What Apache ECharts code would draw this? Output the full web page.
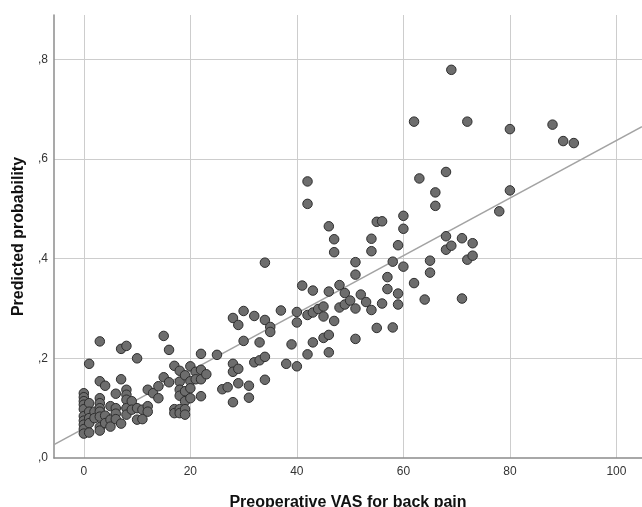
<!DOCTYPE html>
<html>
<head>
<meta charset="utf-8">
<script src="https://cdn.jsdelivr.net/npm/echarts@6/dist/echarts.min.js"></script>
<style>
  html, body { margin: 0; padding: 0; background: #fff; }
  #chart { width: 642px; height: 507px; }
</style>
</head>
<body>
<div id="chart"></div>
<script>
// points: [VAS, predicted probability]
const vas0to16 = [
  [0,0.130],[0,0.122],[0,0.114],[0,0.107],[0,0.098],[0,0.084],[0,0.075],[0,0.067],[0,0.058],[0,0.049],
  [1,0.189],[1,0.110],[1,0.093],[1,0.080],[1,0.070],[1,0.051],
  [2,0.093],[2,0.080],
  [3,0.234],[3,0.154],[3,0.120],[3,0.110],[3,0.100],[3,0.093],[3,0.083],[3,0.062],[3,0.055],
  [4,0.145],[4,0.085],[4,0.070],
  [5,0.104],[5,0.077],[5,0.063],
  [6,0.129],[6,0.100],[6,0.089],[6,0.078],
  [7,0.219],[7,0.158],[7,0.069],
  [8,0.225],[8,0.137],[8,0.127],[8,0.117],[8,0.100],[8,0.087],
  [9,0.114],[9,0.097],
  [10,0.200],[10,0.100],[10,0.077],
  [11,0.097],[11,0.078],
  [12,0.137],[12,0.104],[12,0.093],
  [13,0.130],
  [14,0.144],[14,0.120],
  [15,0.245],[15,0.162],
  [16,0.217],[16,0.152]
];

const vas17to40 = [
  [17,0.185],[17,0.098],[17,0.090],
  [18,0.175],[18,0.153],[18,0.137],[18,0.125],[18,0.098],[18,0.090],
  [19,0.166],[19,0.134],[19,0.114],[19,0.098],[19,0.087],
  [20,0.184],[20,0.154],[20,0.140],[20,0.120],
  [21,0.173],[21,0.158],
  [22,0.209],[22,0.177],[22,0.158],[22,0.124],
  [23,0.168],
  [25,0.207],
  [26,0.138],
  [27,0.142],
  [28,0.281],[28,0.189],[28,0.173],[28,0.112],
  [29,0.267],[29,0.179],[29,0.150],
  [30,0.295],[30,0.235],
  [31,0.145],[31,0.121],
  [32,0.285],[32,0.192],
  [33,0.232],[33,0.196],
  [34,0.392],[34,0.277],[34,0.203],[34,0.157],
  [35,0.263],[35,0.253],
  [37,0.296],
  [38,0.189],
  [39,0.228],
  [40,0.293],[40,0.272],[40,0.184]
];

const vas41to92 = [
  [41,0.346],
  [42,0.555],[42,0.510],[42,0.287],[42,0.208],
  [43,0.336],[43,0.292],[43,0.232],
  [44,0.299],
  [45,0.304],[45,0.284],[45,0.241],
  [46,0.465],[46,0.334],[46,0.247],[46,0.212],
  [47,0.439],[47,0.413],[47,0.275],
  [48,0.347],[48,0.302],
  [49,0.331],[49,0.308],
  [50,0.316],
  [51,0.393],[51,0.368],[51,0.300],[51,0.239],
  [52,0.328],
  [53,0.313],
  [54,0.440],[54,0.415],[54,0.297],
  [55,0.474],[55,0.261],
  [56,0.475],[56,0.310],
  [57,0.363],[57,0.339],
  [58,0.394],[58,0.262],
  [59,0.427],[59,0.330],[59,0.308],
  [60,0.486],[60,0.460],[60,0.384],
  [62,0.675],[62,0.351],
  [63,0.561],
  [64,0.318],
  [65,0.396],[65,0.372],
  [66,0.533],[66,0.506],
  [68,0.574],[68,0.445],[68,0.418],
  [69,0.779],[69,0.426],
  [71,0.441],[71,0.320],
  [72,0.675],[72,0.398],
  [73,0.431],[73,0.406],
  [78,0.495],
  [80,0.660],[80,0.537],
  [88,0.669],
  [90,0.636],
  [92,0.632]
];

// fit line, read at the two edges of the plot
const fitX = [-5.6, 104.8];
const fitY = [0.027, 0.665];

const xTicks = [0, 20, 40, 60, 80, 100];
const yTicks = [0, 0.2, 0.4, 0.6, 0.8];

const font = 'Liberation Sans, Arial, sans-serif';

const chart = echarts.init(document.getElementById('chart'));

const option = {
  backgroundColor: '#fff',
  animation: false,
  grid: { left: 54, right: 0, top: 15, bottom: 49, outerBoundsMode: 'none' },
  xAxis: {
    type: 'value',
    min: -5.6,
    max: 104.8,
    name: 'Preoperative VAS for back pain',
    nameLocation: 'middle',
    nameGap: 37,
    nameTextStyle: { fontSize: 16, fontWeight: 'bold', color: '#111', fontFamily: font },
    axisLine: { show: true, lineStyle: { color: '#8c8c8c', width: 1.5 } },
    axisTick: { show: false },
    axisLabel: {
      color: '#333', fontSize: 12, fontFamily: font, margin: 8,
      formatter: v => (xTicks.indexOf(v) >= 0 ? String(v) : '')
    },
    splitLine: {
      show: true, showMinLine: false, showMaxLine: false,
      lineStyle: { color: '#cdcdcd', width: 1 }
    }
  },
  yAxis: {
    type: 'value',
    min: 0,
    max: 0.889,
    name: 'Predicted probability',
    nameLocation: 'middle',
    nameGap: 27,
    nameTextStyle: { fontSize: 16, fontWeight: 'bold', color: '#111', fontFamily: font },
    axisLine: { show: true, onZero: false, lineStyle: { color: '#8c8c8c', width: 1.5 } },
    axisTick: { show: false },
    axisLabel: {
      color: '#333', fontSize: 12, fontFamily: font, margin: 6,
      formatter: v => {
        const t = yTicks.find(k => Math.abs(k - v) < 1e-6);
        return t === undefined ? '' : ',' + Math.round(t * 10);
      }
    },
    splitLine: {
      show: true, showMinLine: false, showMaxLine: false,
      lineStyle: { color: '#cdcdcd', width: 1 }
    }
  },
  series: [
    {
      type: 'line',
      data: fitX.map((x, i) => [x, fitY[i]]),
      showSymbol: false,
      silent: true,
      lineStyle: { color: '#a3a3a3', width: 1.5 },
      z: 2
    },
    {
      type: 'scatter',
      data: vas0to16.concat(vas17to40, vas41to92),
      symbolSize: 9.5,
      itemStyle: { color: '#6d6d6d', borderColor: '#2e2e2e', borderWidth: 1, opacity: 1 },
      z: 3
    }
  ]
};

chart.setOption(option);
</script>
</body>
</html>
